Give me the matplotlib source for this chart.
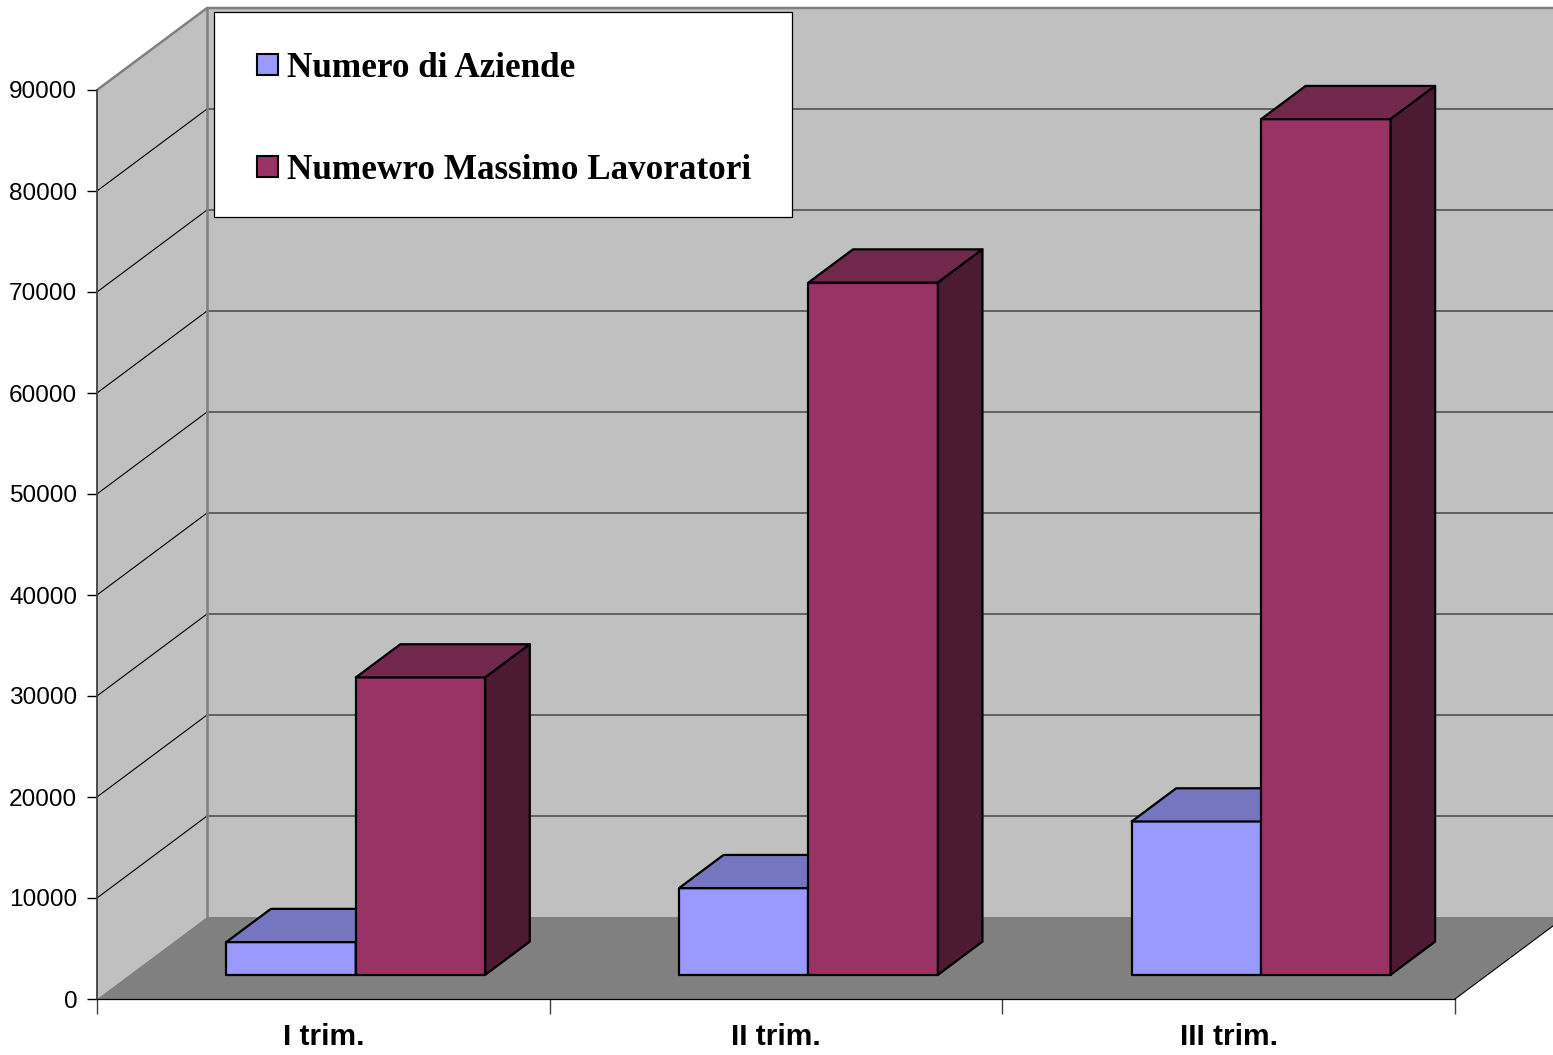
"""
Numero di aziende e numero massimo di lavoratori per trimestre,
disegnato come istogramma "3D" in stile foglio di calcolo.
"""

import matplotlib
matplotlib.use("Agg")
import matplotlib.pyplot as plt
from matplotlib.patches import Polygon, Rectangle


# ---------------------------------------------------------------------------
# Data
# ---------------------------------------------------------------------------

CATEGORIES = ["I trim.", "II trim.", "III trim."]
SERIES_LABELS = ["Numero di Aziende", "Numewro Massimo Lavoratori"]
NUMERO_AZIENDE = [3240, 8580, 15180]
MASSIMO_LAVORATORI = [29440, 68540, 84720]
Y_TICKS = [0, 10000, 20000, 30000, 40000, 50000, 60000, 70000, 80000, 90000]

# ---------------------------------------------------------------------------
# Layout / style
# ---------------------------------------------------------------------------

W, H, DPI = 1553, 1055, 100
ORIGIN_X, ORIGIN_Y = 97, 999        # plot origin, pixels from top-left
CAT_PX = 452.67                     # pixels per category
VAL_PX = 101 / 10000                # pixels per unit value

DEPTH_X = 110 / CAT_PX              # floor depth, in category units
DEPTH_Y = 82 / VAL_PX               # floor depth, in value units
Z0, Z1 = 0.295, 0.70                # front / back of the bars (fraction of depth)
BAR_W = 0.286

WALL = "#c0c0c0"
FLOOR = "#808080"
COLORS = [
    ("#9999ff", "#7575c0", "#4d4d80"),   # front, top, side
    ("#993366", "#72284c", "#4c1a33"),
]

plt.rcParams["font.family"] = ["Liberation Sans", "DejaVu Sans"]


def proj(x, v, z):
    """Oblique projection of (category, value, depth) onto the axes."""
    return (x + z * DEPTH_X, v + z * DEPTH_Y)


def draw_bar(ax, x0, v, colors):
    front, top, side = colors
    faces = [
        ([proj(x0, 0, Z0), proj(x0 + BAR_W, 0, Z0),
          proj(x0 + BAR_W, v, Z0), proj(x0, v, Z0)], front),
        ([proj(x0, v, Z0), proj(x0 + BAR_W, v, Z0),
          proj(x0 + BAR_W, v, Z1), proj(x0, v, Z1)], top),
        ([proj(x0 + BAR_W, 0, Z0), proj(x0 + BAR_W, 0, Z1),
          proj(x0 + BAR_W, v, Z1), proj(x0 + BAR_W, v, Z0)], side),
    ]
    for pts, fc in faces:
        ax.add_patch(Polygon(pts, closed=True, facecolor=fc, edgecolor="black",
                             lw=1.6, joinstyle="round", zorder=3))


fig = plt.figure(figsize=(W / DPI, H / DPI), dpi=DPI)
fig.patch.set_facecolor("white")
ax = fig.add_axes([ORIGIN_X / W, (H - ORIGIN_Y) / H, (W - ORIGIN_X) / W, ORIGIN_Y / H])
ax.set_xlim(0, (W - ORIGIN_X) / CAT_PX)
ax.set_ylim(0, ORIGIN_Y / VAL_PX)
ax.patch.set_visible(False)

n = len(CATEGORIES)
vmax = Y_TICKS[-1]

# ── walls and floor ──────────────────────────────────────────────────────────
left_wall = [proj(0, 0, 0), proj(0, vmax, 0), proj(0, vmax, 1), proj(0, 0, 1)]
back_wall = [proj(0, 0, 1), proj(n, 0, 1), proj(n, vmax, 1), proj(0, vmax, 1)]
floor = [proj(0, 0, 0), proj(n, 0, 0), proj(n, 0, 1), proj(0, 0, 1)]
for pts, fc in [(left_wall, WALL), (back_wall, WALL), (floor, FLOOR)]:
    ax.add_patch(Polygon(pts, closed=True, facecolor=fc, lw=0, zorder=1))

for v in Y_TICKS[1:-1]:
    (x0, y0), (x1, y1) = proj(0, v, 0), proj(0, v, 1)
    ax.plot([x0, x1], [y0, y1], color="black", lw=0.8, zorder=2)
    ax.plot([x1, proj(n, v, 1)[0]], [y1, y1], color="#505050", lw=1.2, zorder=2)

edge = [proj(0, vmax, 0), proj(0, vmax, 1), proj(n, vmax, 1)]
ax.plot(*zip(*edge), color="#808080", lw=1.8, zorder=2)
ax.plot(*zip(proj(0, 0, 1), proj(0, vmax, 1)), color="#808080", lw=1.8, zorder=2)
ax.plot(*zip(proj(n, 0, 0), proj(n, 0, 1)), color="black", lw=0.8, zorder=2)

# ── bars ──────────────────────────────────────────────────────────────────────
for i, (a, b) in enumerate(zip(NUMERO_AZIENDE, MASSIMO_LAVORATORI)):
    draw_bar(ax, i + 0.5 - BAR_W, a, COLORS[0])
    draw_bar(ax, i + 0.5, b, COLORS[1])

# ── axes ──────────────────────────────────────────────────────────────────────
for side in ("top", "right"):
    ax.spines[side].set_visible(False)
ax.spines["left"].set_bounds(0, vmax)
ax.spines["left"].set_color("#404040")
ax.spines["left"].set_linewidth(1.3)
ax.spines["bottom"].set_bounds(0, n)
ax.spines["bottom"].set_linewidth(0.9)

ax.set_yticks(Y_TICKS)
ax.set_yticklabels([str(v) for v in Y_TICKS])
ax.tick_params(axis="y", length=7.2, width=1.0, color="black", pad=7, labelsize=17.6)

ax.set_xticks(range(n + 1))
ax.set_xticklabels([])
ax.set_xticks([i + 0.5 for i in range(n)], minor=True)
ax.set_xticklabels(CATEGORIES, minor=True, fontweight="bold")
ax.tick_params(axis="x", which="major", length=11, width=1.0, color="#404040")
ax.tick_params(axis="x", which="minor", length=0, pad=17, labelsize=21.5)

# ── legend ────────────────────────────────────────────────────────────────────
lax = fig.add_axes([0, 0, 1, 1])
lax.set_xlim(0, W)
lax.set_ylim(H, 0)
lax.axis("off")
lax.add_patch(Rectangle((214, 12), 578, 205, facecolor="white", edgecolor="black", lw=0.9))
for k, label in enumerate(SERIES_LABELS):
    y = 54 + k * 102
    lax.add_patch(Rectangle((257, y), 21, 21, facecolor=COLORS[k][0],
                            edgecolor="black", lw=1.5))
    lax.text(287, y + 23, label, fontsize=25.3, fontweight="bold",
             family=["Liberation Serif", "DejaVu Serif"], va="baseline", ha="left")

fig.savefig("out.png", dpi=DPI)
